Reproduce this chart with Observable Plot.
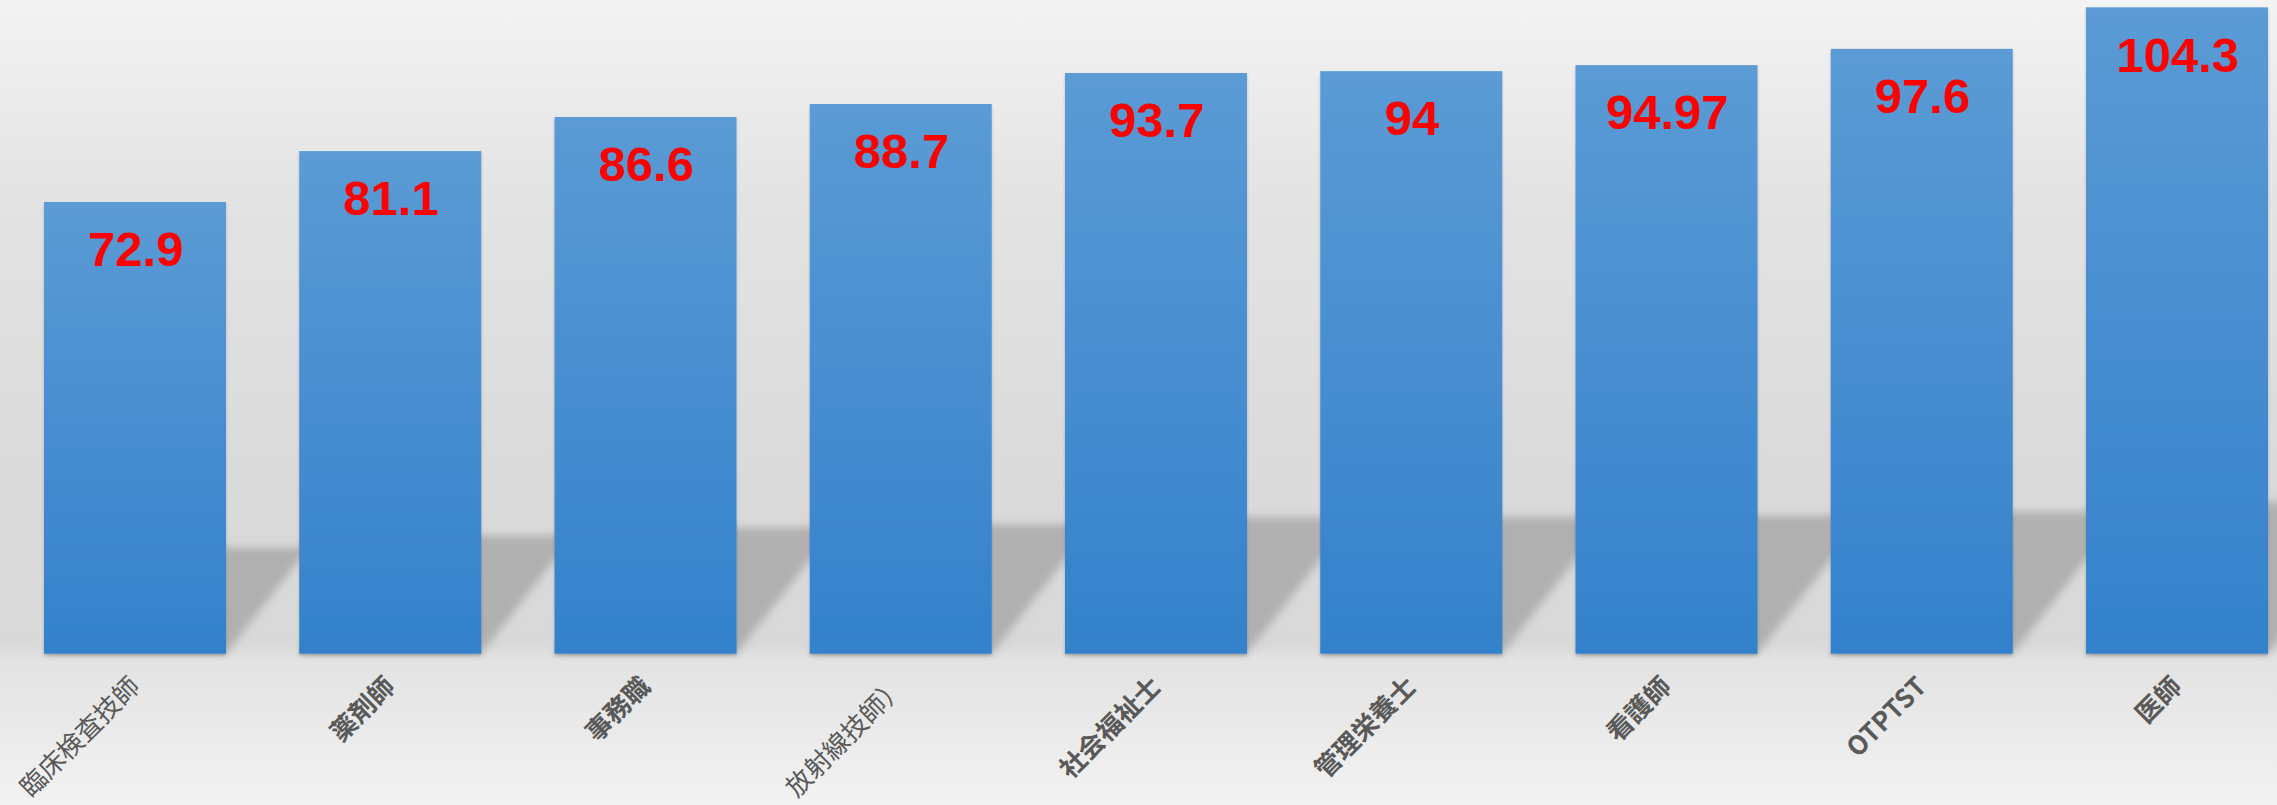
<!DOCTYPE html>
<html><head><meta charset="utf-8">
<script src="https://cdn.jsdelivr.net/npm/d3@7"></script>
<script src="https://cdn.jsdelivr.net/npm/@observablehq/plot@0.6"></script>
<style>
html,body{margin:0;padding:0;}
body{width:2277px;height:805px;overflow:hidden;
 background:linear-gradient(to bottom,#f3f3f3 0%,#e3e3e3 25%,#dadada 60%,#d9d9d9 80%,#e3e3e3 82%,#f2f2f2 100%);}
#chart svg{display:block;}
</style></head><body><div id="chart"></div>
<script>
// ---- data ----
const categories = ["臨床検査技師","薬剤師","事務職","放射線技師）","社会福祉士","管理栄養士","看護師","OTPTST","医師"];
const values = [72.9, 81.1, 86.6, 88.7, 93.7, 94, 94.97, 97.6, 104.3];
const valueLabels = ["72.9","81.1","86.6","88.7","93.7","94","94.97","97.6","104.3"];
const yDomain = [0, 105];

const data = categories.map((c, i) => ({category: c, value: values[i], label: valueLabels[i]}));
const regularWeight = new Set(["臨床検査技師", "放射線技師）"]);

const plot = Plot.plot({
  width: 2277, height: 805,
  marginTop: 3, marginBottom: 151.3, marginLeft: 44, marginRight: 9,
  style: {background: "transparent", overflow: "visible", color: "#595959", fontFamily: "'Noto Sans CJK JP', sans-serif"},
  x: {domain: categories, paddingInner: 0.287, paddingOuter: 0, round: false, axis: null, label: null},
  y: {domain: yDomain, axis: null},
  marks: [
    Plot.barY(data, {x: "category", y: "value", fill: "#b0b0b0", ariaLabel: "shadow"}),
    Plot.barY(data, {x: "category", y: "value", fill: "url(#barGrad)", ariaLabel: "bars"}),
    Plot.text(data, {x: "category", y: "value", text: "label", fill: "#ff0000", fontSize: 49, fontWeight: "bold",
      fontFamily: "'Liberation Sans', Arial, sans-serif", lineAnchor: "top", dy: 29}),
    Plot.axisX({tickSize: 0, tickPadding: 28, tickRotate: -45, fontSize: 26, fill: "#595959", label: null,
      fontFamily: "'Noto Sans CJK JP', sans-serif", fontWeight: "bold"})
  ]
});
document.getElementById("chart").appendChild(plot);

// ---- decorations: gradient, shadows ----
const ns = "http://www.w3.org/2000/svg";
const svg = plot.tagName.toLowerCase() === "svg" ? plot : plot.querySelector("svg");
const defs = d3.select(svg).insert("defs", ":first-child");
const g = defs.append("linearGradient").attr("id", "barGrad").attr("x1", 0).attr("y1", 0).attr("x2", 0).attr("y2", 1);
g.append("stop").attr("offset", "0%").attr("stop-color", "#5b9bd5");
g.append("stop").attr("offset", "100%").attr("stop-color", "#3381cc");
defs.append("filter").attr("id", "shadowBlur").attr("x", "-20%").attr("y", "-30%").attr("width", "140%").attr("height", "160%")
  .append("feGaussianBlur").attr("stdDeviation", 4);
const ds = defs.append("filter").attr("id", "barDrop").attr("x", "-5%").attr("y", "-5%").attr("width", "110%").attr("height", "110%");
ds.append("feDropShadow").attr("dx", 0).attr("dy", 2).attr("stdDeviation", 1.5).attr("flood-color", "#000").attr("flood-opacity", 0.2);

const ys = plot.scale("y");
const base = ys.apply(0);
let groups = svg.querySelectorAll('g[aria-label="bar"]');
let sh = svg.querySelector('g[aria-label="shadow"]') || groups[0];
let bars = svg.querySelector('g[aria-label="bars"]') || groups[1];
const wrap = document.createElementNS(ns, "g");
wrap.setAttribute("filter", "url(#shadowBlur)");
sh.parentNode.insertBefore(wrap, sh);
wrap.appendChild(sh);
sh.setAttribute("transform", `translate(0,${base}) skewX(-38) scale(1,0.235) translate(0,${-base}) ` + (sh.getAttribute("transform") || ""));
bars.setAttribute("filter", "url(#barDrop)");

svg.querySelectorAll("text").forEach(t => {
  if (regularWeight.has(t.textContent)) t.setAttribute("font-weight", "normal");
});
</script></body></html>
